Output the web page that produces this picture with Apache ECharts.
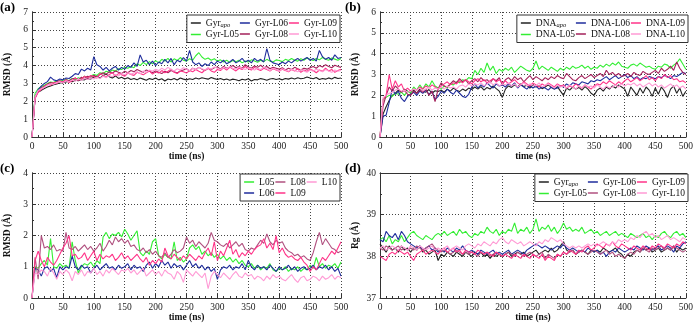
<!DOCTYPE html>
<html>
<head>
<meta charset="utf-8">
<script src="https://cdn.jsdelivr.net/npm/echarts@6/dist/echarts.min.js"></script>
<style>
  html, body { margin: 0; padding: 0; background: #fff; }
  #chart { width: 696px; height: 324px; }
</style>
</head>
<body>
<div id="chart"></div>
<script>
// time axis (ns), one sample every 5 ns
const time = [0, 5, 10, 15, 20, 25, 30, 35, 40, 45, 50, 55, 60, 65, 70, 75, 80, 85, 90, 95,
  100, 105, 110, 115, 120, 125, 130, 135, 140, 145, 150, 155, 160, 165, 170, 175, 180, 185, 190, 195,
  200, 205, 210, 215, 220, 225, 230, 235, 240, 245, 250, 255, 260, 265, 270, 275, 280, 285, 290, 295,
  300, 305, 310, 315, 320, 325, 330, 335, 340, 345, 350, 355, 360, 365, 370, 375, 380, 385, 390, 395,
  400, 405, 410, 415, 420, 425, 430, 435, 440, 445, 450, 455, 460, 465, 470, 475, 480, 485, 490, 495, 500]

// (a) Gyr RMSD
const aApo = [0, 2.30, 2.52, 2.61, 2.72, 2.80, 2.86, 2.93, 2.97, 3.02,
  3.04, 3.08, 3.12, 3.10, 3.18, 3.15, 3.22, 3.20, 3.27, 3.25,
  3.35, 3.40, 3.30, 3.45, 3.52, 3.38, 3.30, 3.42, 3.28, 3.35,
  3.25, 3.32, 3.22, 3.28, 3.20, 3.30, 3.24, 3.18, 3.27, 3.22,
  3.30, 3.20, 3.26, 3.14, 3.25, 3.21, 3.28, 3.19, 3.30, 3.24,
  3.20, 3.26, 3.22, 3.30, 3.25, 3.32, 3.28, 3.24, 3.33, 3.27,
  3.22, 3.28, 3.20, 3.25, 3.18, 3.24, 3.21, 3.15, 3.23, 3.19,
  3.26, 3.14, 3.22, 3.20, 3.27, 3.23, 3.18, 3.25, 3.28, 3.22,
  3.26, 3.20, 3.28, 3.24, 3.30, 3.25, 3.32, 3.26, 3.29, 3.36,
  3.30, 3.26, 3.33, 3.22, 3.28, 3.24, 3.31, 3.25, 3.34, 3.28, 3.30]
const aL05 = [0, 2.45, 2.70, 2.82, 2.90, 3.00, 3.08, 3.05, 3.15, 3.12,
  3.18, 3.22, 3.15, 3.28, 3.20, 3.32, 3.25, 3.40, 3.35, 3.42,
  3.50, 3.45, 3.60, 3.55, 3.68, 3.62, 3.75, 3.70, 3.82, 3.78,
  3.90, 3.85, 3.95, 3.88, 4.10, 4.00, 4.18, 4.05, 4.22, 4.10,
  4.28, 4.15, 4.35, 4.25, 4.40, 4.20, 4.38, 4.28, 4.45, 4.30,
  4.25, 4.38, 4.30, 4.55, 4.72, 4.48, 4.35, 4.42, 4.30, 4.38,
  4.25, 4.32, 4.20, 4.30, 4.18, 4.28, 4.22, 4.30, 4.15, 4.26,
  4.20, 4.32, 4.25, 4.18, 4.30, 4.22, 4.35, 4.25, 4.20, 4.32,
  4.28, 4.22, 4.35, 4.28, 4.40, 4.30, 4.25, 4.38, 4.30, 4.42,
  4.35, 4.28, 4.40, 4.32, 4.45, 4.35, 4.30, 4.42, 4.36, 4.30, 4.40]
const aL06 = [0, 2.20, 2.65, 2.85, 3.00, 3.10, 3.35, 3.20, 3.15, 3.25,
  3.20, 3.30, 3.28, 3.40, 3.55, 3.50, 3.80, 3.70, 3.85, 3.75,
  4.50, 4.05, 3.95, 3.75, 3.90, 3.70, 3.85, 3.95, 3.75, 3.90,
  3.80, 4.00, 3.90, 4.15, 3.95, 4.60, 4.20, 4.30, 4.05, 4.25,
  4.00, 4.20, 4.10, 4.35, 4.15, 4.40, 4.05, 4.30, 4.20, 4.45,
  4.25, 4.85, 4.20, 4.05, 4.15, 3.95, 4.10, 4.00, 4.20, 4.05,
  4.25, 4.15, 4.30, 4.10, 4.20, 4.35, 4.15, 4.25, 4.40, 4.20,
  4.30, 4.15, 4.40, 4.25, 4.35, 4.20, 4.95, 4.30, 4.15, 4.10,
  4.05, 4.20, 4.10, 4.25, 4.15, 4.30, 4.40, 4.25, 4.35, 4.45,
  4.30, 4.40, 4.25, 4.85, 4.50, 4.35, 4.45, 4.30, 4.60, 4.40, 4.45]
const aL08 = [0, 2.20, 2.55, 2.75, 2.85, 2.95, 3.05, 3.00, 3.10, 3.15,
  3.05, 3.20, 3.15, 3.25, 3.30, 3.20, 3.35, 3.28, 3.40, 3.35,
  3.45, 3.38, 3.50, 3.60, 3.52, 3.65, 3.58, 3.70, 3.62, 3.55,
  3.68, 3.60, 3.72, 3.65, 3.78, 3.70, 3.62, 3.75, 3.68, 3.60,
  3.70, 3.62, 3.55, 3.68, 3.60, 3.72, 3.65, 3.58, 3.70, 3.75,
  3.82, 3.70, 3.85, 3.78, 3.90, 3.80, 3.72, 3.85, 3.78, 3.88,
  3.92, 3.80, 3.95, 3.85, 3.90, 4.00, 3.88, 3.95, 3.85, 4.05,
  3.92, 3.85, 3.98, 3.90, 4.02, 3.88, 3.95, 3.82, 3.90, 3.85,
  3.80, 3.88, 3.75, 3.85, 3.78, 3.90, 3.82, 3.75, 3.85, 3.80,
  3.88, 3.95, 3.85, 4.00, 3.92, 4.05, 3.95, 3.88, 4.02, 3.95, 3.90]
const aL09 = [0, 2.15, 2.50, 2.65, 2.80, 2.95, 2.90, 3.05, 3.00, 3.12,
  3.08, 3.20, 3.05, 3.15, 3.30, 3.18, 3.25, 3.40, 3.30, 3.45,
  3.38, 3.30, 3.55, 3.45, 3.35, 3.50, 3.60, 3.42, 3.55, 3.48,
  3.40, 3.58, 3.50, 3.45, 3.62, 3.55, 3.48, 3.60, 3.70, 3.52,
  3.65, 3.58, 3.72, 3.60, 3.68, 3.80, 3.62, 3.55, 3.70, 3.65,
  3.58, 3.72, 3.65, 3.78, 3.68, 3.60, 3.75, 3.85, 3.70, 3.62,
  3.78, 3.72, 3.88, 3.75, 3.92, 3.80, 3.70, 3.85, 3.78, 3.95,
  3.82, 3.75, 3.90, 3.80, 3.72, 3.85, 3.78, 3.70, 3.82, 3.75,
  3.68, 3.80, 3.72, 3.65, 3.78, 3.70, 3.82, 3.62, 3.75, 3.68,
  3.80, 3.72, 3.60, 3.75, 3.68, 3.85, 3.70, 3.78, 3.62, 3.72, 3.80]
const aL10 = [0, 2.25, 2.60, 2.70, 2.78, 2.90, 2.98, 2.95, 3.05, 3.10,
  3.02, 3.15, 3.10, 3.20, 3.12, 3.25, 3.18, 3.28, 3.22, 3.30,
  3.25, 3.35, 3.28, 3.40, 3.32, 3.45, 3.38, 3.50, 3.42, 3.55,
  3.48, 3.60, 3.52, 3.58, 3.65, 3.55, 3.70, 3.62, 3.75, 3.68,
  3.80, 3.72, 3.85, 3.75, 3.90, 3.78, 3.70, 3.82, 3.75, 3.88,
  3.80, 3.72, 3.85, 3.78, 3.90, 3.82, 3.75, 3.88, 3.80, 3.92,
  3.85, 3.78, 3.90, 3.82, 3.95, 3.85, 3.80, 3.92, 3.85, 3.78,
  3.88, 3.82, 3.75, 3.85, 3.78, 3.90, 3.82, 3.72, 3.85, 3.78,
  3.70, 3.82, 3.75, 3.68, 3.80, 3.72, 3.65, 3.78, 3.70, 3.62,
  3.75, 3.68, 3.80, 3.72, 3.65, 3.78, 3.70, 3.62, 3.75, 3.68, 3.72]

// (b) DNA RMSD
const bApo = [0, 1.10, 1.45, 1.75, 2.00, 2.10, 2.25, 2.15, 2.30, 2.20,
  2.15, 2.25, 2.10, 2.30, 2.20, 2.15, 2.28, 2.10, 2.22, 2.18,
  2.25, 2.15, 2.30, 2.20, 2.35, 2.25, 2.18, 2.30, 2.22, 2.35,
  2.28, 2.40, 2.30, 2.42, 2.25, 2.38, 2.30, 2.45, 2.32, 2.20,
  1.90, 2.30, 2.45, 2.38, 2.50, 2.40, 2.55, 2.42, 2.48, 2.35,
  2.50, 2.40, 2.45, 2.32, 2.40, 2.50, 2.38, 2.30, 2.42, 2.20,
  2.00, 2.35, 2.25, 2.40, 2.30, 2.38, 2.25, 2.42, 2.30, 2.10,
  2.00, 2.25, 2.35, 2.20, 2.40, 2.30, 2.45, 2.35, 2.50, 2.40,
  2.30, 1.95, 2.40, 2.20, 2.00, 2.35, 2.10, 2.40, 2.25, 1.95,
  2.35, 2.05, 2.40, 2.20, 1.90, 2.30, 2.45, 2.10, 2.35, 1.95, 2.20]
const bL05 = [0, 1.80, 1.90, 2.00, 1.95, 2.10, 2.05, 2.15, 2.00, 2.20,
  2.10, 2.40, 2.25, 2.50, 2.30, 2.55, 2.40, 2.70, 2.45, 2.35,
  2.30, 2.45, 2.35, 2.55, 2.50, 2.65, 2.60, 2.75, 2.70, 2.85,
  2.80, 3.20, 3.00, 3.30, 3.10, 3.55, 3.20, 3.40, 3.05, 3.25,
  3.15, 3.30, 3.20, 3.35, 3.10, 3.25, 3.40, 3.30, 3.20, 3.15,
  3.30, 3.65, 3.25, 3.40, 3.30, 3.20, 3.35, 3.25, 3.15, 3.30,
  3.20, 3.35, 3.25, 3.40, 3.30, 3.35, 3.45, 3.30, 3.40, 3.25,
  3.35, 3.30, 3.45, 3.35, 3.50, 3.40, 3.55, 3.45, 3.60, 3.40,
  3.35, 3.30, 3.45, 3.50, 3.40, 3.55, 3.45, 3.35, 3.40, 3.30,
  3.25, 3.40, 3.35, 3.50, 3.45, 3.30, 3.45, 3.55, 3.75, 3.50, 3.25]
const bL06 = [0, 1.00, 1.05, 1.65, 2.30, 2.05, 2.20, 1.85, 1.70, 1.95,
  2.05, 2.15, 2.00, 2.20, 2.10, 2.25, 2.05, 2.20, 1.80, 1.95,
  2.20, 2.10, 2.30, 2.15, 2.05, 2.25, 2.10, 1.95, 1.90, 2.05,
  2.40, 2.55, 2.35, 2.50, 2.40, 2.60, 2.45, 2.35, 2.55, 2.45,
  2.50, 2.40, 2.55, 2.45, 2.60, 2.35, 2.50, 2.40, 2.30, 2.45,
  2.35, 2.45, 2.30, 2.40, 2.35, 2.25, 2.40, 2.30, 2.35, 2.45,
  2.40, 2.55, 2.45, 2.60, 2.55, 2.50, 2.65, 2.60, 2.55, 2.70,
  2.65, 2.75, 2.70, 2.80, 2.90, 2.75, 2.85, 2.95, 2.80, 2.90,
  3.00, 2.85, 2.95, 2.80, 2.90, 2.75, 2.85, 2.80, 2.90, 2.85,
  2.80, 2.90, 2.85, 2.95, 2.90, 2.80, 2.95, 2.90, 3.00, 3.10, 3.05]
const bL08 = [0, 1.50, 2.00, 2.40, 2.20, 2.45, 2.30, 2.15, 2.25, 2.05,
  2.00, 2.20, 2.10, 2.25, 2.15, 2.30, 2.00, 2.20, 1.70, 2.30,
  2.60, 2.45, 2.40, 2.55, 2.70, 2.60, 2.80, 2.65, 2.75, 2.55,
  2.70, 2.80, 2.65, 2.85, 2.70, 2.75, 2.60, 2.80, 2.70, 2.85,
  2.50, 2.75, 2.85, 2.70, 2.90, 2.75, 2.85, 2.65, 2.80, 2.95,
  2.75, 2.90, 2.80, 2.70, 2.85, 2.75, 2.90, 2.80, 2.95, 2.85,
  2.80, 3.05, 2.90, 2.75, 2.70, 2.85, 2.95, 2.80, 2.90, 3.00,
  2.85, 2.95, 3.05, 2.90, 3.20, 3.00, 3.10, 2.95, 3.05, 2.90,
  2.95, 3.05, 2.90, 3.10, 3.00, 2.95, 3.15, 3.05, 3.00, 3.10,
  3.20, 3.05, 3.30, 3.15, 3.25, 3.40, 3.20, 3.60, 3.30, 3.10, 3.00]
const bL09 = [0, 1.80, 2.00, 3.00, 2.30, 2.70, 2.40, 2.55, 2.20, 2.35,
  2.20, 2.30, 2.25, 2.40, 2.30, 2.45, 2.35, 2.50, 2.40, 2.30,
  2.45, 2.55, 2.65, 2.50, 2.60, 2.55, 2.70, 2.60, 2.75, 2.65,
  2.55, 2.70, 2.80, 2.65, 2.75, 2.60, 2.70, 2.80, 2.65, 2.75,
  2.60, 2.70, 2.55, 2.65, 2.75, 2.60, 2.50, 2.65, 2.55, 2.45,
  2.60, 2.50, 2.40, 2.55, 2.45, 2.60, 2.50, 2.40, 2.55, 2.45,
  2.50, 2.35, 2.45, 2.40, 2.55, 2.45, 2.35, 2.50, 2.40, 2.30,
  2.45, 2.55, 2.50, 2.65, 2.55, 2.70, 2.60, 2.50, 2.65, 2.55,
  2.70, 2.80, 2.65, 2.75, 2.85, 2.70, 2.80, 2.95, 2.75, 2.85,
  2.70, 2.90, 2.80, 3.00, 2.85, 2.95, 2.75, 2.80, 2.65, 2.70, 2.60]
const bL10 = [0, 1.90, 2.00, 2.10, 2.15, 2.25, 2.30, 2.20, 2.25, 2.15,
  2.20, 2.30, 2.25, 2.35, 2.20, 2.30, 2.40, 2.25, 2.35, 2.30,
  2.40, 2.30, 2.45, 2.35, 2.40, 2.30, 2.45, 2.50, 2.40, 2.55,
  2.45, 2.55, 2.50, 2.60, 2.45, 2.55, 2.65, 2.50, 2.60, 2.45,
  2.55, 2.50, 2.60, 2.45, 2.55, 2.40, 2.50, 2.60, 2.45, 2.55,
  2.50, 2.45, 2.60, 2.40, 2.50, 2.55, 2.45, 2.35, 2.50, 2.40,
  2.45, 2.35, 2.50, 2.40, 2.30, 2.45, 2.35, 2.50, 2.40, 2.45,
  2.35, 2.50, 2.40, 2.30, 2.45, 2.35, 2.40, 2.50, 2.40, 2.55,
  2.45, 2.55, 2.50, 2.60, 2.45, 2.55, 2.40, 2.50, 2.60, 2.45,
  2.55, 2.40, 2.50, 2.35, 2.45, 2.55, 2.40, 2.50, 2.35, 2.45, 2.30]

// (c) ligand RMSD
const cL05 = [0, 1.00, 0.95, 1.10, 1.20, 1.05, 1.90, 1.00, 0.95, 1.10,
  1.00, 1.05, 0.95, 1.80, 1.20, 0.80, 1.00, 1.10, 1.05, 1.15,
  1.00, 1.20, 1.10, 1.95, 2.10, 1.90, 2.05, 2.00, 2.10, 1.95,
  2.20, 2.05, 1.85, 2.00, 2.15, 1.45, 1.35, 1.50, 1.40, 1.80,
  1.90, 1.35, 1.25, 1.40, 1.30, 1.25, 1.80, 1.20, 1.30, 1.15,
  1.25, 1.60, 1.70, 1.55, 1.65, 1.40, 1.50, 1.35, 1.45, 1.30,
  1.40, 1.25, 1.35, 1.20, 1.30, 1.15, 1.25, 1.10, 1.20, 1.05,
  1.00, 1.10, 0.95, 1.05, 0.90, 1.00, 0.95, 1.10, 0.90, 0.85,
  0.95, 0.90, 1.00, 0.85, 0.95, 0.90, 1.00, 0.85, 0.95, 0.90,
  1.05, 0.95, 1.30, 1.00, 1.10, 0.95, 1.05, 1.00, 1.10, 0.95, 1.15]
const cL06 = [0, 0.95, 0.90, 0.70, 0.95, 1.00, 0.85, 0.95, 0.65, 1.00,
  0.90, 1.00, 0.95, 1.35, 1.00, 0.90, 1.05, 0.95, 1.00, 0.80,
  0.95, 1.05, 0.90, 1.00, 1.10, 0.95, 1.00, 0.90, 1.05, 0.95,
  1.00, 1.10, 0.90, 1.05, 0.95, 1.00, 0.85, 1.05, 1.15, 0.95,
  1.10, 1.00, 1.20, 1.05, 1.15, 0.95, 1.10, 1.00, 1.05, 0.90,
  1.05, 1.20, 1.00, 1.10, 0.95, 1.05, 0.90, 1.00, 0.85, 0.95,
  0.60, 0.90, 1.00, 0.95, 1.05, 0.90, 1.00, 0.95, 1.10, 0.90,
  1.20, 1.00, 0.90, 1.05, 0.95, 1.00, 0.90, 1.05, 0.95, 0.85,
  1.00, 0.90, 0.95, 1.05, 0.90, 1.00, 0.85, 0.95, 1.00, 0.90,
  0.95, 1.05, 0.90, 1.00, 0.95, 1.05, 0.90, 1.00, 0.85, 0.95, 0.70]
const cL08 = [0, 1.30, 0.60, 2.00, 1.60, 1.65, 1.55, 1.70, 1.50, 1.55,
  1.50, 2.10, 1.60, 1.55, 1.65, 1.50, 1.60, 1.70, 1.55, 1.65,
  1.50, 1.60, 1.75, 1.50, 1.65, 1.85, 1.70, 1.95, 1.80, 1.90,
  1.75, 1.85, 1.65, 1.70, 1.55, 1.50, 1.60, 1.45, 1.55, 1.40,
  1.50, 1.35, 1.30, 1.45, 1.30, 1.40, 1.55, 1.45, 1.50, 1.60,
  1.95, 1.75, 1.85, 1.65, 1.80, 1.70, 1.60, 1.75, 2.10, 1.85,
  1.80, 1.70, 1.65, 1.75, 1.60, 1.70, 1.80, 1.65, 1.75, 1.55,
  1.50, 1.60, 1.55, 1.70, 1.85, 1.75, 2.05, 1.80, 1.70, 1.85,
  1.75, 1.80, 1.60, 1.50, 1.45, 1.35, 1.40, 1.30, 1.35, 1.25,
  1.20, 1.45, 1.80, 2.10, 1.70, 1.90, 1.75, 1.60, 1.55, 1.45, 1.50]
const cL09 = [0, 1.20, 1.50, 1.20, 1.00, 1.30, 1.15, 1.05, 1.20, 1.40,
  1.60, 1.75, 2.00, 1.35, 1.40, 1.25, 1.30, 1.45, 1.20, 1.35,
  1.50, 1.20, 1.40, 1.25, 1.35, 1.30, 1.40, 1.20, 1.30, 1.45,
  1.25, 1.35, 1.20, 1.30, 1.40, 1.25, 1.15, 1.30, 1.05, 1.20,
  1.10, 1.25, 1.15, 1.60, 1.35, 1.25, 1.40, 1.30, 1.20, 1.35,
  1.25, 1.40, 1.30, 1.20, 1.35, 1.25, 1.45, 1.60, 1.35, 1.80,
  1.20, 1.50, 1.35, 1.60, 1.85, 1.40, 1.55, 1.30, 1.45, 1.35,
  1.50, 1.40, 1.55, 1.65, 1.70, 1.90, 1.60, 1.75, 1.55, 2.00,
  1.45, 1.60, 1.40, 1.30, 1.35, 1.25, 1.20, 1.30, 1.15, 1.05,
  0.85, 1.00, 0.90, 1.10, 1.30, 1.20, 1.35, 1.50, 1.40, 1.60, 1.80]
const cL10 = [0, 0.80, 0.75, 0.90, 0.85, 0.70, 0.95, 0.80, 0.60, 0.85,
  0.75, 0.90, 0.80, 0.55, 0.85, 0.75, 0.90, 0.70, 0.85, 0.80,
  0.95, 0.75, 0.85, 0.70, 0.90, 0.80, 0.95, 0.85, 0.75, 0.90,
  0.85, 0.95, 0.80, 0.90, 0.75, 0.85, 0.95, 0.70, 0.80, 0.90,
  0.75, 0.85, 0.70, 0.90, 0.80, 0.75, 0.60, 0.85, 0.75, 0.50,
  0.90, 0.80, 0.70, 0.85, 0.75, 0.65, 0.80, 0.30, 0.70, 0.85,
  0.75, 0.65, 0.80, 0.70, 0.60, 0.75, 0.85, 0.70, 0.65, 0.80,
  0.70, 0.75, 0.60, 0.70, 0.65, 0.55, 0.70, 0.60, 0.75, 0.65,
  0.70, 0.60, 0.55, 0.65, 0.75, 0.60, 0.50, 0.65, 0.70, 0.55,
  0.60, 0.70, 0.65, 0.55, 0.70, 0.60, 0.65, 0.75, 0.60, 0.70, 0.65]

// (d) Gyr radius of gyration
const dApo = [38.30, 38.20, 38.10, 38.25, 38.15, 38.20, 38.10, 38.25, 38.15, 38.20,
  38.10, 38.20, 38.15, 38.25, 38.10, 38.15, 38.05, 38.10, 38.15, 37.90,
  38.05, 38.00, 38.10, 38.05, 38.00, 38.10, 38.05, 38.00, 38.10, 38.05,
  38.00, 38.10, 38.05, 38.10, 38.00, 38.05, 37.95, 38.05, 38.00, 38.05,
  38.00, 38.05, 38.10, 38.00, 38.05, 38.10, 38.05, 38.10, 38.00, 38.05,
  38.10, 38.15, 38.05, 38.10, 38.15, 38.10, 38.20, 38.10, 38.15, 38.25,
  38.35, 38.15, 38.10, 38.15, 38.05, 38.10, 38.15, 38.10, 38.05, 38.15,
  38.10, 38.15, 38.10, 38.20, 38.15, 38.10, 38.15, 38.20, 38.10, 38.05,
  37.95, 38.05, 38.00, 38.10, 38.15, 38.10, 38.20, 38.15, 38.20, 38.10,
  38.15, 38.20, 38.10, 38.15, 38.20, 38.15, 38.25, 38.10, 38.20, 38.15, 38.20]
const dL05 = [38.40, 38.45, 38.35, 38.50, 38.30, 38.40, 38.35, 38.50, 38.35, 38.45,
  38.55, 38.60, 38.50, 38.45, 38.40, 38.50, 38.45, 38.40, 38.50, 38.55,
  38.50, 38.60, 38.50, 38.55, 38.60, 38.50, 38.65, 38.55, 38.60, 38.50,
  38.45, 38.55, 38.50, 38.60, 38.55, 38.70, 38.60, 38.55, 38.65, 38.50,
  38.60, 38.55, 38.65, 38.60, 38.80, 38.55, 38.65, 38.60, 38.70, 38.55,
  38.65, 38.90, 38.60, 38.70, 38.65, 38.75, 38.60, 38.70, 38.55, 38.65,
  38.80, 38.65, 38.70, 38.60, 38.65, 38.60, 38.70, 38.55, 38.60, 38.65,
  38.55, 38.60, 38.50, 38.55, 38.60, 38.50, 38.55, 38.60, 38.50, 38.55,
  38.50, 38.45, 38.55, 38.50, 38.45, 38.50, 38.55, 38.45, 38.50, 38.40,
  38.50, 38.45, 38.55, 38.60, 38.50, 38.45, 38.55, 38.60, 38.50, 38.55, 38.45]
const dL06 = [38.40, 38.35, 38.60, 38.50, 38.45, 38.55, 38.40, 38.60, 38.50, 38.35,
  38.30, 38.25, 38.20, 38.25, 38.15, 38.20, 38.25, 38.15, 38.20, 38.10,
  38.15, 38.10, 38.20, 38.15, 38.10, 38.20, 38.15, 38.25, 38.15, 38.10,
  38.15, 38.10, 38.05, 38.15, 38.10, 38.05, 38.10, 38.15, 38.05, 38.10,
  38.05, 38.10, 38.15, 38.05, 38.10, 38.15, 38.10, 38.05, 38.15, 38.20,
  38.25, 38.30, 38.25, 38.20, 38.25, 38.20, 38.15, 38.20, 38.25, 38.20,
  38.30, 38.20, 38.15, 38.20, 38.15, 38.10, 38.15, 38.10, 38.20, 38.15,
  38.10, 38.15, 38.05, 38.10, 38.00, 38.10, 38.15, 38.10, 38.20, 38.15,
  38.10, 38.15, 38.20, 38.15, 38.25, 38.20, 38.15, 38.25, 38.20, 38.15,
  38.20, 38.25, 38.15, 38.20, 38.25, 38.20, 38.10, 38.25, 38.20, 38.30, 38.35]
const dL08 = [38.20, 38.15, 38.25, 38.20, 38.15, 38.20, 38.25, 38.15, 38.20, 38.15,
  38.20, 38.15, 38.25, 38.20, 38.15, 38.20, 38.25, 38.30, 38.20, 38.15,
  38.10, 38.15, 38.10, 38.05, 38.10, 38.15, 38.10, 38.05, 38.10, 38.05,
  38.10, 38.05, 38.00, 38.10, 38.05, 38.10, 38.00, 38.05, 38.10, 38.05,
  38.00, 38.05, 38.10, 38.05, 38.00, 38.10, 38.05, 38.00, 38.05, 38.10,
  38.05, 38.00, 38.05, 38.10, 37.95, 38.05, 38.00, 37.95, 38.05, 38.00,
  38.10, 38.05, 38.10, 38.15, 38.05, 38.10, 38.15, 38.10, 38.05, 38.10,
  38.15, 38.10, 38.05, 38.10, 38.15, 38.05, 38.10, 38.00, 38.05, 38.00,
  37.95, 38.05, 38.10, 38.05, 38.15, 38.10, 38.20, 38.15, 38.10, 38.20,
  38.15, 38.20, 38.25, 38.15, 38.20, 38.15, 38.25, 38.20, 38.15, 38.10, 38.15]
const dL09 = [38.00, 37.95, 37.90, 38.05, 38.10, 38.05, 38.15, 38.10, 38.05, 38.10,
  38.00, 37.90, 38.05, 38.10, 38.15, 38.05, 38.10, 38.15, 38.10, 38.05,
  38.15, 38.20, 38.10, 38.15, 38.20, 38.10, 38.15, 38.05, 38.15, 38.10,
  38.10, 38.05, 38.15, 38.10, 38.05, 38.10, 38.05, 38.00, 38.10, 38.05,
  38.00, 38.05, 38.00, 37.95, 38.05, 38.00, 37.95, 38.05, 38.00, 37.95,
  38.05, 38.00, 37.95, 38.05, 37.90, 38.00, 37.95, 37.90, 38.05, 38.00,
  38.10, 38.05, 38.15, 38.10, 38.05, 38.15, 38.10, 38.20, 38.25, 38.15,
  38.20, 38.30, 38.25, 38.20, 38.30, 38.25, 38.35, 38.25, 38.20, 38.30,
  38.25, 38.20, 38.15, 38.25, 38.20, 38.15, 38.25, 38.20, 38.15, 38.25,
  38.20, 38.30, 38.25, 38.20, 38.30, 38.25, 38.20, 38.30, 38.25, 38.35, 38.30]
const dL10 = [38.20, 38.25, 38.15, 38.20, 38.25, 38.20, 38.15, 38.25, 38.20, 38.15,
  38.25, 38.20, 38.15, 38.25, 38.20, 38.15, 38.20, 38.25, 38.15, 38.20,
  38.15, 38.20, 38.25, 38.15, 38.20, 38.25, 38.20, 38.15, 38.25, 38.30,
  38.25, 38.20, 38.30, 38.25, 38.35, 38.30, 38.25, 38.35, 38.30, 38.40,
  38.45, 38.35, 38.30, 38.40, 38.35, 38.30, 38.35, 38.25, 38.30, 38.35,
  38.30, 38.25, 38.35, 38.30, 38.40, 38.35, 38.45, 38.40, 38.35, 38.40,
  38.30, 38.25, 38.20, 38.25, 38.20, 38.25, 38.20, 38.25, 38.30, 38.25,
  38.30, 38.25, 38.30, 38.35, 38.30, 38.25, 38.35, 38.30, 38.40, 38.35,
  38.40, 38.35, 38.45, 38.40, 38.50, 38.45, 38.55, 38.60, 38.50, 38.55,
  38.45, 38.50, 38.40, 38.45, 38.50, 38.40, 38.45, 38.40, 38.35, 38.45, 38.40]

const FONT = 'Liberation Serif'
const C = {
  apo: '#222222',
  L05: '#33ee33',
  L06: '#1f2d9c',
  L08: '#a3205a',
  L08b: '#b0507f',
  L09: '#ff3388',
  L10: '#ff9ad5'
}

// panel layout (pixels)
const panels = [
  { left: 32, top: 12, width: 309, height: 125, min: 0, max: 7, yName: 'RMSD (Å)', tag: '(a)', tagX: 0, tagY: 1 },
  { left: 380, top: 12, width: 309, height: 125, min: 0, max: 6, yName: 'RMSD (Å)', tag: '(b)', tagX: 345, tagY: 1 },
  { left: 32, top: 173, width: 309, height: 125, min: 0, max: 4, yName: 'RMSD (Å)', tag: '(c)', tagX: 0, tagY: 162 },
  { left: 380, top: 173, width: 309, height: 125, min: 37, max: 40, yName: 'Rg (Å)', tag: '(d)', tagX: 345, tagY: 162 }
]

// series per panel: [name, values, colour]
const panelSeries = [
  [['Gyrapo', aApo, C.apo], ['Gyr-L05', aL05, C.L05], ['Gyr-L06', aL06, C.L06],
    ['Gyr-L08', aL08, C.L08], ['Gyr-L09', aL09, C.L09], ['Gyr-L10', aL10, C.L10]],
  [['DNAapo', bApo, C.apo], ['DNA-L05', bL05, C.L05], ['DNA-L06', bL06, C.L06],
    ['DNA-L08', bL08, C.L08], ['DNA-L09', bL09, C.L09], ['DNA-L10', bL10, C.L10]],
  [['L05', cL05, C.L05], ['L06', cL06, C.L06], ['L08', cL08, C.L08b],
    ['L09', cL09, C.L09], ['L10', cL10, C.L10]],
  [['Gyr apo', dApo, C.apo], ['Gyr-L05 ', dL05, C.L05], ['Gyr-L06 ', dL06, C.L06],
    ['Gyr-L08 ', dL08, C.L08b], ['Gyr-L09 ', dL09, C.L09], ['Gyr-L10 ', dL10, C.L10]]
]

// legend boxes
const legendPos = [
  { right: 356, top: 15 },
  { right: 8, top: 15 },
  { right: 356, top: 174 },
  { right: 8, top: 174 }
]

const axisText = { fontFamily: FONT, fontSize: 9.5, color: '#222' }
const dotted = { type: [1, 2], color: '#444', width: 1 }

const grid = []
const xAxis = []
const yAxis = []
const series = []
const legend = []
const graphic = []

panels.forEach((p, i) => {
  grid.push({ left: p.left, top: p.top, width: p.width, height: p.height })
  // bottom and top x axes (box frame)
  xAxis.push({
    type: 'value', gridIndex: i, min: 0, max: 500, interval: 50,
    name: 'time (ns)', nameLocation: 'middle', nameGap: 15,
    nameTextStyle: { fontFamily: FONT, fontSize: 9.5, fontWeight: 'bold', color: '#111' },
    axisLine: { lineStyle: { color: '#333', width: 1 } },
    axisTick: { inside: true, length: 4, lineStyle: { color: '#333' } },
    minorTick: { show: true, splitNumber: 5, length: 2, lineStyle: { color: '#333' } },
    axisLabel: Object.assign({ margin: 4 }, axisText),
    splitLine: { show: true, lineStyle: dotted }
  })
  xAxis.push({
    type: 'value', gridIndex: i, min: 0, max: 500, interval: 50, position: 'top',
    axisLine: { lineStyle: { color: '#333', width: 1 } },
    axisTick: { show: false }, axisLabel: { show: false }, splitLine: { show: false }
  })
  yAxis.push({
    type: 'value', gridIndex: i, min: p.min, max: p.max, interval: 1,
    name: p.yName, nameLocation: 'middle', nameGap: 19,
    nameTextStyle: { fontFamily: FONT, fontSize: 9.5, fontWeight: 'bold', color: '#111' },
    axisLine: { show: true, lineStyle: { color: '#333', width: 1 } },
    axisTick: { inside: true, length: 4, lineStyle: { color: '#333' } },
    minorTick: { show: true, splitNumber: 2, length: 2, lineStyle: { color: '#333' } },
    axisLabel: Object.assign({ margin: 4 }, axisText),
    splitLine: { show: true, lineStyle: dotted }
  })
  yAxis.push({
    type: 'value', gridIndex: i, min: p.min, max: p.max, interval: 1, position: 'right',
    axisLine: { show: true, lineStyle: { color: '#333', width: 1 } },
    axisTick: { show: false }, axisLabel: { show: false }, splitLine: { show: false }
  })

  const names = []
  panelSeries[i].forEach(([name, vals, color]) => {
    names.push({ name: name, itemStyle: { color: color } })
    series.push({
      name: name, type: 'line', xAxisIndex: i * 2, yAxisIndex: i * 2,
      data: time.map((t, k) => [t, vals[k]]),
      showSymbol: false, symbol: 'none',
      lineStyle: { width: 1.1, color: color }, itemStyle: { color: color },
      silent: true
    })
  })

  legend.push({
    right: legendPos[i].right, top: legendPos[i].top,
    orient: 'vertical', height: 22,
    data: names, icon: 'rect', itemWidth: 10, itemHeight: 1.5, itemGap: 1,
    padding: [3, 3, 3, 4],
    backgroundColor: '#fff', borderColor: '#333', borderWidth: 1, borderRadius: 0,
    selectedMode: false,
    formatter: n => {
      const s = n.trim()
      if (s === 'Gyrapo' || s === 'Gyr apo') return 'Gyr{s|apo}'
      if (s === 'DNAapo') return 'DNA{s|apo}'
      return s
    },
    textStyle: {
      fontFamily: FONT, fontSize: 9.5, color: '#111', padding: [0, 4, 0, 0],
      rich: { s: { fontFamily: FONT, fontSize: 6.5, fontStyle: 'italic', verticalAlign: 'bottom', padding: [4, 0, 0, 0], color: '#111' } }
    }
  })

  graphic.push({
    type: 'text', left: p.tagX, top: p.tagY,
    style: { text: p.tag, font: 'bold 13px ' + FONT, fill: '#000' }
  })
})

const myChart = echarts.init(document.getElementById('chart'))
const option = {
  animation: false,
  backgroundColor: '#fff',
  grid: grid,
  xAxis: xAxis,
  yAxis: yAxis,
  legend: legend,
  series: series,
  graphic: graphic
}
option && myChart.setOption(option)
</script>
</body>
</html>
